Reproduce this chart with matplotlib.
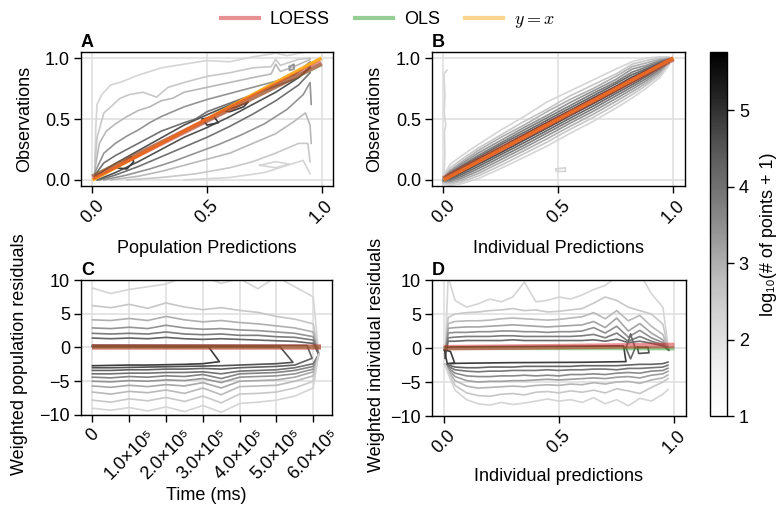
import matplotlib.pyplot as plt
from matplotlib.colors import Normalize
from matplotlib.cm import ScalarMappable
from matplotlib.lines import Line2D

plt.rcParams['font.family'] = ['Liberation Sans', 'DejaVu Sans']

# colour scale: log10(# of points + 1)
cbar_min, cbar_max = 1.0, 5.76
cbar_ticks = [1, 2, 3, 4, 5]

# ---------------- panel A: contour lines (level, x, y)
a_lines = [
    (1.5, [0.01, 0.015, 0.02, 0.04, 0.08, 0.12, 0.2, 0.3, 0.4, 0.5, 0.6, 0.7, 0.8, 0.85, 0.93],
          [0.15, 0.45, 0.62, 0.70, 0.78, 0.80, 0.86, 0.92, 0.95, 0.98, 0.97, 1.01, 1.04, 1.02, 1.05]),
    (1.85, [0.01, 0.02, 0.05, 0.08, 0.12, 0.16, 0.22, 0.28, 0.33, 0.4, 0.5, 0.6, 0.7, 0.78, 0.8, 0.82, 0.9, 0.95],
           [0.10, 0.35, 0.55, 0.60, 0.67, 0.70, 0.72, 0.68, 0.76, 0.80, 0.85, 0.88, 0.92, 0.93, 0.99, 0.94, 0.99, 1.0]),
    (2.2, [0.01, 0.03, 0.06, 0.1, 0.15, 0.2, 0.25, 0.3, 0.35, 0.4, 0.5, 0.6, 0.7, 0.78, 0.8, 0.82, 0.88, 0.95],
          [0.08, 0.30, 0.40, 0.46, 0.52, 0.57, 0.60, 0.65, 0.67, 0.72, 0.76, 0.80, 0.84, 0.87, 0.95, 0.89, 0.93, 0.99]),
    (2.9, [0.01, 0.05, 0.1, 0.15, 0.2, 0.25, 0.3, 0.4, 0.5, 0.6, 0.7, 0.8, 0.88, 0.95],
          [0.06, 0.22, 0.30, 0.36, 0.41, 0.47, 0.52, 0.60, 0.66, 0.71, 0.76, 0.81, 0.86, 0.97]),
    (3.6, [0.01, 0.05, 0.1, 0.2, 0.3, 0.4, 0.45, 0.5, 0.6, 0.7, 0.8, 0.9, 0.95],
          [0.04, 0.14, 0.20, 0.30, 0.40, 0.47, 0.50, 0.56, 0.63, 0.70, 0.77, 0.84, 0.93]),
    (4.3, [0.01, 0.1, 0.2, 0.3, 0.4, 0.5, 0.6, 0.7, 0.8, 0.9, 0.95],
          [0.03, 0.135, 0.24, 0.345, 0.45, 0.535, 0.615, 0.70, 0.79, 0.89, 0.95]),
    # below the diagonal
    (4.3, [0.02, 0.1, 0.2, 0.3, 0.4, 0.5, 0.6, 0.7, 0.8, 0.9, 0.95],
          [0.0, 0.06, 0.15, 0.25, 0.35, 0.43, 0.52, 0.62, 0.72, 0.84, 0.92]),
    (3.6, [0.03, 0.1, 0.2, 0.3, 0.4, 0.5, 0.6, 0.7, 0.8, 0.9, 0.95],
          [0.0, 0.04, 0.11, 0.19, 0.27, 0.35, 0.44, 0.54, 0.65, 0.78, 0.88]),
    (2.9, [0.05, 0.15, 0.25, 0.35, 0.45, 0.55, 0.65, 0.75, 0.85, 0.92, 0.95, 0.955],
          [0.0, 0.04, 0.09, 0.15, 0.22, 0.29, 0.37, 0.46, 0.58, 0.70, 0.80, 0.62]),
    (2.2, [0.08, 0.2, 0.3, 0.4, 0.5, 0.6, 0.7, 0.8, 0.88, 0.93, 0.95, 0.955],
          [0.0, 0.03, 0.07, 0.12, 0.17, 0.22, 0.30, 0.38, 0.48, 0.55, 0.45, 0.30]),
    (1.85, [0.15, 0.3, 0.45, 0.6, 0.7, 0.8, 0.9, 0.94, 0.95],
           [0.0, 0.02, 0.05, 0.10, 0.15, 0.22, 0.30, 0.30, 0.15]),
    (1.5, [0.4, 0.6, 0.75, 0.85, 0.92, 0.95],
          [0.0, 0.02, 0.06, 0.12, 0.16, 0.05]),
    # small closed loops
    (4.65, [0.1, 0.17, 0.18, 0.15, 0.1], [0.1, 0.19, 0.15, 0.09, 0.1]),
    (4.65, [0.48, 0.53, 0.55, 0.5, 0.48], [0.5, 0.52, 0.47, 0.45, 0.5]),
    (4.65, [0.57, 0.63, 0.68, 0.66, 0.6, 0.57], [0.57, 0.6, 0.64, 0.6, 0.56, 0.57]),
    (3.0, [0.86, 0.88, 0.88, 0.86, 0.86], [0.93, 0.95, 0.91, 0.9, 0.93]),
    (1.5, [0.73, 0.8, 0.86, 0.8, 0.73], [0.12, 0.15, 0.13, 0.1, 0.12]),
]

# fitted lines, panel A
a_fit_x = [0.0, 0.25, 0.5, 0.75, 1.0]
a_loess = [0.02, 0.255, 0.49, 0.725, 0.96]
a_ols = [0.03, 0.26, 0.49, 0.72, 0.95]

# ---------------- panel B: band offsets from y = x
b_x = [0.0, 0.03, 0.08, 0.15, 0.25, 0.35, 0.45, 0.55, 0.65, 0.75, 0.82, 0.88, 0.94, 0.98]
b_levels = [1.5, 1.9, 2.4, 2.9, 3.4, 3.9, 4.4, 4.4, 3.9, 3.4, 2.9, 2.4, 1.9, 1.5]
b_offsets = [
    [0.04, 0.10, 0.12, 0.14, 0.16, 0.17, 0.19, 0.18, 0.17, 0.16, 0.15, 0.12, 0.07, 0.03],
    [0.03, 0.07, 0.09, 0.11, 0.12, 0.13, 0.13, 0.14, 0.13, 0.12, 0.13, 0.10, 0.06, 0.02],
    [0.02, 0.05, 0.07, 0.09, 0.10, 0.10, 0.11, 0.11, 0.10, 0.10, 0.11, 0.08, 0.05, 0.02],
    [0.015, 0.04, 0.055, 0.07, 0.075, 0.08, 0.08, 0.085, 0.08, 0.075, 0.09, 0.06, 0.04, 0.015],
    [0.01, 0.03, 0.04, 0.05, 0.055, 0.06, 0.06, 0.06, 0.06, 0.055, 0.065, 0.045, 0.03, 0.01],
    [0.008, 0.02, 0.03, 0.035, 0.04, 0.04, 0.04, 0.04, 0.04, 0.04, 0.045, 0.03, 0.02, 0.008],
    [0.005, 0.01, 0.015, 0.02, 0.02, 0.022, 0.022, 0.02, 0.022, 0.02, 0.025, 0.018, 0.01, 0.005],
    [-0.005, -0.015, -0.02, -0.022, -0.025, -0.025, -0.025, -0.023, -0.025, -0.022, -0.02, -0.018, -0.012, -0.005],
    [-0.01, -0.025, -0.035, -0.04, -0.042, -0.045, -0.045, -0.043, -0.045, -0.04, -0.038, -0.033, -0.022, -0.01],
    [-0.015, -0.035, -0.05, -0.058, -0.062, -0.066, -0.065, -0.064, -0.066, -0.06, -0.056, -0.05, -0.035, -0.015],
    [-0.02, -0.045, -0.065, -0.078, -0.083, -0.087, -0.088, -0.085, -0.088, -0.082, -0.076, -0.068, -0.05, -0.02],
    [-0.025, -0.055, -0.08, -0.098, -0.105, -0.11, -0.113, -0.11, -0.112, -0.105, -0.097, -0.087, -0.065, -0.03],
    [-0.03, -0.065, -0.095, -0.118, -0.13, -0.135, -0.14, -0.135, -0.138, -0.13, -0.12, -0.105, -0.08, -0.035],
    [-0.035, -0.075, -0.11, -0.14, -0.155, -0.165, -0.172, -0.168, -0.17, -0.16, -0.148, -0.13, -0.1, -0.04],
]
b_extra = [
    (1.5, [0.002, 0.006, 0.004, 0.01, 0.003, 0.006, 0.002, 0.015],
          [0.03, 0.2, 0.4, 0.45, 0.55, 0.7, 0.87, 0.9]),
    (1.5, [0.49, 0.53, 0.53, 0.49, 0.49], [0.09, 0.1, 0.07, 0.07, 0.09]),
]
b_fit_x = [0.0, 0.5, 1.0]
b_loess = [0.01, 0.5, 0.995]
b_ols = [0.01, 0.5, 0.995]

# ---------------- panel C: residuals vs time (x in units of 1e5 ms)
c_x = [0, 0.5, 1.0, 1.5, 2.0, 2.5, 3.0, 3.5, 4.0, 4.5, 5.0, 5.5, 6.0]
c_join = (6.15, -1.0)
c_lines = [
    (1.5, [8.8, 8.0, 8.6, 9.0, 9.4, 10.5, 10.5, 9.5, 10.2, 8.7, 10.5, 9.0, 7.5]),
    (1.9, [6.2, 5.9, 6.4, 5.8, 6.6, 6.0, 5.6, 5.9, 5.5, 5.2, 4.6, 4.2, 3.5]),
    (2.4, [4.1, 4.0, 4.3, 4.0, 4.6, 4.1, 3.8, 4.0, 3.7, 3.5, 3.2, 2.9, 2.3]),
    (2.9, [2.9, 2.8, 3.0, 2.8, 3.3, 2.9, 2.7, 2.8, 2.6, 2.5, 2.3, 2.1, 1.6]),
    (3.4, [2.1, 2.0, 2.1, 2.0, 2.3, 2.0, 1.9, 2.0, 1.8, 1.8, 1.6, 1.5, 1.1]),
    (3.9, [1.4, 1.3, 1.4, 1.3, 1.5, 1.3, 1.2, 1.3, 1.2, 1.1, 1.0, 0.9, 0.6]),
    (3.6, [-3.9, -3.9, -3.8, -3.8, -3.7, -3.7, -3.6, -3.9, -3.5, -3.4, -3.3, -3.0, -2.4]),
    (3.25, [-4.4, -4.5, -4.3, -4.4, -4.2, -4.3, -4.0, -4.6, -3.9, -3.8, -3.7, -3.4, -2.8]),
    (2.9, [-5.0, -5.1, -4.9, -5.0, -4.8, -4.9, -4.6, -5.2, -4.4, -4.3, -4.2, -3.9, -3.2]),
    (2.55, [-5.7, -5.9, -5.6, -5.8, -5.5, -5.7, -5.2, -6.0, -5.0, -4.9, -4.8, -4.4, -3.6]),
    (2.2, [-6.6, -6.9, -6.5, -6.7, -6.3, -6.8, -6.0, -7.0, -5.8, -5.7, -5.6, -5.0, -4.2]),
    (1.85, [-7.8, -8.1, -7.6, -7.9, -7.4, -8.0, -7.2, -8.2, -6.9, -6.8, -6.6, -6.0, -5.0]),
    (1.5, [-9.0, -9.3, -8.9, -9.4, -8.8, -9.5, -8.6, -9.6, -8.3, -8.1, -7.8, -7.2, -6.0]),
]
c_loops = [
    (4.65, [0, 0.5, 1.0, 1.5, 2.0, 2.5, 3.0, 3.45, 3.15, 0],
           [-2.7, -2.65, -2.6, -2.6, -2.55, -2.5, -2.4, -2.1, 0.15, 0.2]),
    (4.3, [0, 0.5, 1.0, 1.5, 2.0, 2.5, 3.0, 3.5, 4.0, 4.5, 5.0, 5.45, 5.1, 0],
          [-3.0, -3.0, -2.95, -2.9, -2.85, -2.8, -2.75, -2.7, -2.6, -2.5, -2.4, -2.2, 0.1, 0.1]),
    (3.95, [0, 0.5, 1.0, 1.5, 2.0, 2.5, 3.0, 3.5, 4.0, 4.5, 5.0, 5.5, 5.97, 5.83, 0],
           [-3.4, -3.4, -3.3, -3.3, -3.2, -3.2, -3.1, -3.2, -3.0, -2.9, -2.8, -2.6, -1.6, 0.3, 0.35]),
]
c_fit_x = [0, 3.0, 6.2]
c_loess = [0.0, 0.0, 0.0]
c_ols = [0.0, 0.0, 0.0]
c_ticks = [0, 1, 2, 3, 4, 5, 6]
c_ticklabels = ['0', '1.0×10⁵', '2.0×10⁵', '3.0×10⁵', '4.0×10⁵', '5.0×10⁵', '6.0×10⁵']

# ---------------- panel D: residuals vs individual predictions
d_x = [0.02, 0.05, 0.10, 0.15, 0.20, 0.25, 0.30, 0.35, 0.40, 0.45,
       0.50, 0.55, 0.60, 0.65, 0.70, 0.75, 0.80, 0.85, 0.90, 0.95]
d_upper_start = (0.006, -1.5)
d_upper_join = (0.975, -0.3)
d_lower_start = (0.006, -2.4)
d_upper = [
    (1.5, [10.5, 7.0, 6.0, 6.5, 7.2, 6.8, 7.5, 9.7, 6.8, 7.0, 7.5, 7.2, 7.8, 8.6, 9.2, 10.5, 11, 11, 8.0, 6.0]),
    (1.85, [4.5, 5.0, 5.2, 5.3, 5.5, 5.6, 5.8, 5.5, 5.6, 5.3, 5.4, 5.6, 5.8, 6.6, 7.5, 7.0, 6.0, 5.5, 5.0, 3.5]),
    (2.2, [3.6, 3.9, 4.0, 4.0, 4.1, 4.3, 4.4, 4.3, 4.2, 4.1, 4.2, 4.4, 4.6, 5.2, 4.3, 5.5, 4.0, 4.8, 3.2, 2.0]),
    (2.6, [2.9, 3.0, 3.1, 3.1, 3.2, 3.3, 3.4, 3.3, 3.2, 3.1, 3.2, 3.3, 3.4, 3.9, 3.0, 4.4, 2.5, 3.6, 2.2, 1.2]),
    (3.0, [2.2, 2.3, 2.3, 2.4, 2.4, 2.5, 2.5, 2.4, 2.4, 2.3, 2.4, 2.4, 2.5, 3.0, 2.2, 3.2, 1.6, 2.6, 1.5, 0.8]),
    (3.4, [1.5, 1.6, 1.7, 1.7, 1.7, 1.8, 1.8, 1.7, 1.7, 1.7, 1.7, 1.7, 1.8, 2.0, 1.5, 2.2, 1.0, 1.7, 1.0, 0.5]),
    (3.8, [1.0, 1.0, 1.1, 1.1, 1.1, 1.1, 1.2, 1.1, 1.1, 1.1, 1.1, 1.1, 1.1, 1.2, 1.0, 1.3, 0.8, 1.0, 0.7, 0.3]),
]
d_lower = [
    (3.9, [-2.5, -2.8, -2.9, -2.9, -2.8, -2.8, -2.8, -2.7, -2.7, -2.7, -2.7, -2.7, -2.6, -2.6, -2.6, -2.6, -2.5, -2.4, -2.4, -2.3]),
    (3.5, [-2.7, -3.2, -3.4, -3.5, -3.4, -3.4, -3.3, -3.3, -3.3, -3.2, -3.3, -3.2, -3.2, -3.1, -3.1, -3.2, -3.0, -3.0, -2.9, -2.8]),
    (3.1, [-2.9, -3.7, -4.1, -4.2, -4.2, -4.1, -4.1, -4.0, -4.1, -4.0, -4.1, -3.9, -3.9, -3.8, -3.9, -3.7, -3.6, -3.7, -3.4, -3.3]),
    (2.7, [-3.1, -4.2, -4.8, -5.0, -4.9, -4.9, -4.8, -4.8, -4.7, -4.6, -4.7, -4.6, -4.5, -4.4, -4.5, -4.3, -4.2, -4.4, -4.0, -3.8]),
    (2.3, [-3.3, -4.8, -5.6, -5.9, -5.8, -5.7, -5.6, -5.7, -5.5, -5.4, -5.5, -5.3, -5.4, -5.1, -5.3, -5.0, -4.9, -5.2, -4.7, -4.4]),
    (1.9, [-3.5, -5.5, -6.6, -7.0, -7.1, -6.8, -6.7, -6.9, -6.5, -6.4, -6.6, -6.3, -6.5, -6.2, -6.6, -6.0, -6.3, -6.7, -5.8, -5.0]),
    (1.5, [-3.8, -6.2, -7.6, -8.2, -8.4, -8.0, -8.3, -8.1, -7.8, -7.5, -7.8, -7.6, -8.0, -7.3, -8.2, -7.6, -8.5, -7.4, -7.8, -6.8]),
]
d_loops = [
    (4.65, [0.008, 0.2, 0.5, 0.78, 0.79, 0.6, 0.3, 0.06, 0.03],
           [0.15, 0.2, 0.25, 0.3, -2.0, -2.1, -2.15, -2.25, -2.3]),
    (4.65, [0.004, 0.03, 0.048, 0.016, 0.004], [-0.3, -0.5, -2.2, -2.3, -0.3]),
    (3.8, [0.81, 0.83, 0.81, 0.79, 0.81], [2.0, 0.0, -1.6, 0.0, 2.0]),
    (4.3, [0.84, 0.885, 0.89, 0.845, 0.84], [0.1, 0.1, -0.7, -0.8, 0.1]),
]
d_fit_x = [0.0, 0.25, 0.5, 0.75, 1.0]
d_loess = [0.05, 0.12, 0.2, 0.3, 0.38]
d_ols = [0.0, 0.0, -0.01, -0.02, -0.05]

# ---------------------------------------------------------------------------
cmap = plt.get_cmap('Greys')
norm = Normalize(cbar_min, cbar_max)

LOESS_C, OLS_C, YX_C = '#d62728', '#2ca02c', '#f9ab21'
FS = 13


def draw(ax, xs, ys, level):
    ax.plot(xs, ys, color=cmap(0.18 + 0.82 * norm(level)), lw=1.2, zorder=2)


def fits(ax, x, loess, ols, identity=False):
    ax.plot(x, ols, color=OLS_C, lw=3, alpha=0.5, zorder=3, solid_capstyle='butt')
    if identity:
        ax.plot([0, 1], [0, 1], color=YX_C, lw=2.5, zorder=3, solid_capstyle='butt')
    ax.plot(x, loess, color=LOESS_C, lw=4, alpha=0.5, zorder=4, solid_capstyle='butt')


def style(ax, letter):
    ax.grid(True, color='0.88', lw=1.2, zorder=0)
    ax.set_axisbelow(True)
    ax.tick_params(direction='out', length=5, width=1, labelsize=FS, pad=3)
    for s in ax.spines.values():
        s.set_linewidth(1)
    ax.text(0.0, 1.01, letter, transform=ax.transAxes, fontsize=FS,
            fontweight='bold', ha='left', va='bottom')
    for lab in ax.get_xticklabels():
        lab.set_rotation(45)
        lab.set_ha('center')


fig = plt.figure(figsize=(7.76, 5.15), dpi=100)
ax_a = fig.add_axes([0.1044, 0.6388, 0.3247, 0.2602])
ax_b = fig.add_axes([0.5567, 0.6388, 0.326, 0.2602])
ax_c = fig.add_axes([0.1044, 0.1942, 0.3234, 0.2621])
ax_d = fig.add_axes([0.5567, 0.1922, 0.3273, 0.2641])
cax = fig.add_axes([0.915, 0.1922, 0.0219, 0.7068])

# A
for lev, xs, ys in a_lines:
    draw(ax_a, xs, ys, lev)
fits(ax_a, a_fit_x, a_loess, a_ols, identity=True)

# B
for lev, off in zip(b_levels, b_offsets):
    draw(ax_b, b_x, [x + o for x, o in zip(b_x, off)], lev)
for lev, xs, ys in b_extra:
    draw(ax_b, xs, ys, lev)
fits(ax_b, b_fit_x, b_loess, b_ols, identity=True)

for ax, xlabel, ylx in [(ax_a, 'Population Predictions', -0.19),
                        (ax_b, 'Individual Predictions', -0.194)]:
    ax.set_xlim(-0.05, 1.05)
    ax.set_ylim(-0.05, 1.05)
    ax.set_xticks([0, 0.5, 1.0])
    ax.set_xticklabels(['0.0', '0.5', '1.0'])
    ax.set_yticks([0, 0.5, 1.0])
    ax.set_yticklabels(['0.0', '0.5', '1.0'])
    ax.set_xlabel(xlabel, fontsize=FS)
    ax.set_ylabel('Observations', fontsize=FS)
    ax.xaxis.set_label_coords(0.5, -0.40)
    ax.yaxis.set_label_coords(ylx, 0.5)
style(ax_a, 'A')
style(ax_b, 'B')

# C
for lev, ys in c_lines:
    draw(ax_c, [x * 1e5 for x in c_x + [c_join[0]]], ys + [c_join[1]], lev)
for lev, xs, ys in c_loops:
    draw(ax_c, [x * 1e5 for x in xs], ys, lev)
fits(ax_c, [x * 1e5 for x in c_fit_x], c_loess, c_ols)
ax_c.set_xlim(-0.31e5, 6.51e5)
ax_c.set_ylim(-10, 10)
ax_c.set_xticks([t * 1e5 for t in c_ticks])
ax_c.set_xticklabels(c_ticklabels)
ax_c.set_yticks([-10, -5, 0, 5, 10])
ax_c.set_yticklabels(['−10', '−5', '0', '5', '10'])
ax_c.set_xlabel('Time (ms)', fontsize=FS)
ax_c.set_ylabel('Weighted population residuals', fontsize=FS)
ax_c.xaxis.set_label_coords(0.5, -0.53)
ax_c.yaxis.set_label_coords(-0.21, 0.45)
style(ax_c, 'C')

# D
for lev, ys in d_upper:
    draw(ax_d, [d_upper_start[0]] + d_x + [d_upper_join[0]],
         [d_upper_start[1]] + ys + [d_upper_join[1]], lev)
for lev, ys in d_lower:
    draw(ax_d, [d_lower_start[0]] + d_x + [0.972], [d_lower_start[1]] + ys + [ys[-1] * 0.9], lev)
for lev, xs, ys in d_loops:
    draw(ax_d, xs, ys, lev)
fits(ax_d, d_fit_x, d_loess, d_ols)
ax_d.set_xlim(-0.05, 1.05)
ax_d.set_ylim(-10, 10)
ax_d.set_xticks([0, 0.5, 1.0])
ax_d.set_xticklabels(['0.0', '0.5', '1.0'])
ax_d.set_yticks([-10, -5, 0, 5, 10])
ax_d.set_yticklabels(['−10', '−5', '0', '5', '10'])
ax_d.set_xlabel('Individual predictions', fontsize=FS)
ax_d.set_ylabel('Weighted individual residuals', fontsize=FS)
ax_d.xaxis.set_label_coords(0.5, -0.38)
ax_d.yaxis.set_label_coords(-0.185, 0.45)
style(ax_d, 'D')

# colourbar
cb = fig.colorbar(ScalarMappable(norm=norm, cmap=cmap), cax=cax, ticks=cbar_ticks)
cb.outline.set_linewidth(1)
cax.tick_params(labelsize=FS, length=5, width=1)
cb.set_label('log₁₀(# of points + 1)', fontsize=FS, labelpad=8)

# legend
handles = [Line2D([], [], color=LOESS_C, lw=3, alpha=0.5),
           Line2D([], [], color=OLS_C, lw=3, alpha=0.5),
           Line2D([], [], color=YX_C, lw=3, alpha=0.5)]
leg = fig.legend(handles, ['LOESS', 'OLS', '$y = x$'], loc='upper center',
                 bbox_to_anchor=(0.5, 1.01), ncol=3, frameon=False, fontsize=FS,
                 handlelength=2.1, columnspacing=1.4, handletextpad=0.6)
leg.get_texts()[2].set_math_fontfamily('cm')

fig.savefig('out.png', dpi=100)
